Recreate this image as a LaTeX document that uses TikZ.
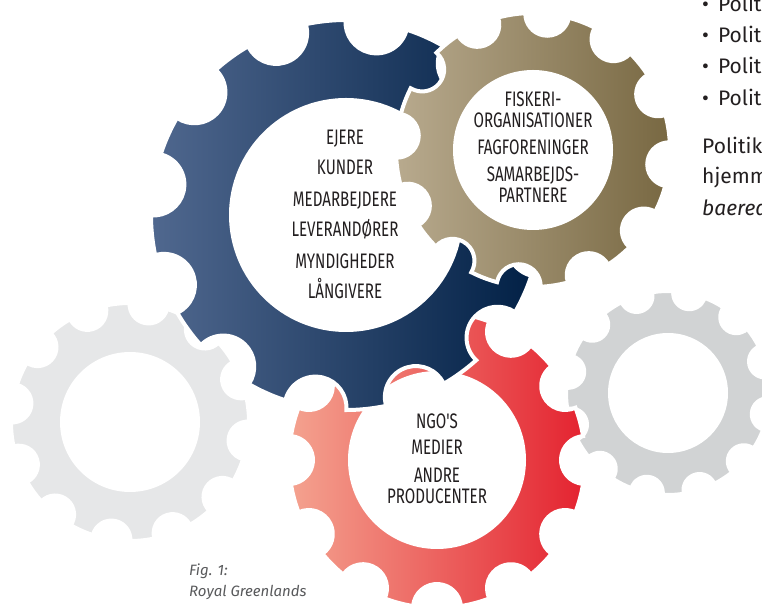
\documentclass[tikz,border=0pt]{standalone}
\usepackage{fontspec}
\setmainfont{Fira Sans}
\newfontfamily\gearfont[FakeStretch=0.72]{Fira Sans}
\usetikzlibrary{calc}

\definecolor{navyL}{RGB}{80,104,143}
\definecolor{navyR}{RGB}{0,31,68}
\definecolor{goldL}{RGB}{184,170,142}
\definecolor{goldR}{RGB}{120,104,66}
\definecolor{coralL}{RGB}{244,162,143}
\definecolor{coralR}{RGB}{228,35,48}
\definecolor{paleL}{RGB}{230,231,232}
\definecolor{paleR}{RGB}{209,211,212}
\definecolor{ink}{RGB}{35,31,32}
\definecolor{figgray}{RGB}{88,89,91}

% style, centre, tip radius, notch radius, first notch angle
\newcommand{\gearwheel}[5]{%
  \pgfmathsetmacro{\gb}{2*asin(#4/(2*#3))}
  \path[#1] ($(#2)+(#5+\gb:#3pt)$)
    \foreach \k in {0,...,11}{
      arc[start angle=#5+30*\k+\gb, end angle=#5+30*\k+30-\gb, radius=#3pt]
      arc[start angle=#5+30*\k+300-\gb/2, end angle=#5+30*\k+120+\gb/2, radius=#4pt]
    } -- cycle;
}

\begin{document}
\begin{tikzpicture}[
x=1pt, y=1pt,
gap/.style={draw=white, line width=4pt},
navygear/.style={gap, left color=navyL, right color=navyR},
goldgear/.style={gap, left color=goldL, right color=goldR},
coralgear/.style={gap, left color=coralL, right color=coralR},
palegear/.style={gap, fill=paleL},
greygear/.style={gap, fill=paleR},
hole/.style={
    circle,
    fill=white,
    inner sep=0pt, % no inner spacing
},
gearlabel/.style={
    font={\gearfont\fontsize{21}{24}\selectfont},
    text=ink,
    anchor=base,
    inner sep=0pt,
},
bodytext/.style={font={\fontsize{21}{25}\selectfont}, text=ink, anchor=base west, inner sep=0pt},
figlabel/.style={font={\itshape\fontsize{15}{18}\selectfont}, text=figgray, anchor=base west, inner sep=0pt},
]
\useasboundingbox (0,0) rectangle (762,607);

\coordinate (paleC) at (130,185);
\coordinate (greyC) at (668,214);
\coordinate (coralC) at (437,147);
\coordinate (navyC) at (346,392);
\coordinate (goldC) at (533,457);

% grey gears at the back
\gearwheel{palegear}{paleC}{119}{19}{21}
\node[hole, minimum size=140pt] (paleHole) at (paleC) {};
\gearwheel{greygear}{greyC}{102}{16}{18}
\node[hole, minimum size=120pt] (greyHole) at (greyC) {};

% coloured gears
\gearwheel{coralgear}{coralC}{148}{24}{0}
\node[hole, minimum size=178pt] (coralHole) at (coralC) {};
\gearwheel{navygear}{navyC}{195}{31}{21}
\node[hole, minimum size=234pt] (navyHole) at (navyC) {};
\gearwheel{goldgear}{goldC}{137}{22}{24}
\node[hole, minimum size=160pt] (goldHole) at (goldC) {};

% navy gear
\node[gearlabel] (ejere) at (345,462) {EJERE};
\node[gearlabel] (kunder) at (345,432) {KUNDER};
\node[gearlabel] (medarb) at (345,400) {MEDARBEJDERE};
\node[gearlabel] (lever) at (345,370) {LEVERANDØRER};
\node[gearlabel] (myndig) at (345,338) {MYNDIGHEDER};
\node[gearlabel] (laang) at (345,308) {LÅNGIVERE};

% gold gear
\node[gearlabel] (fisk) at (533,500) {FISKERI-};
\node[gearlabel] (organ) at (533,479) {ORGANISATIONER};
\node[gearlabel] (fagf) at (533,452) {FAGFORENINGER};
\node[gearlabel] (samarb) at (533,425) {SAMARBEJDS-};
\node[gearlabel] (partn) at (533,404) {PARTNERE};

% coral gear
\node[gearlabel] (ngo) at (437,178) {NGO'S};
\node[gearlabel] (medier) at (437,152) {MEDIER};
\node[gearlabel] (andre) at (437,124) {ANDRE};
\node[gearlabel] (produc) at (437,103) {PRODUCENTER};

% caption
\node[figlabel] (fig) at (189,31) {Fig. 1:};
\node[figlabel] (royal) at (189,11) {Royal Greenlands};

% text running off the right edge
\node[bodytext] (pol1) at (702,595) {•\hspace{9pt}Polit};
\node[bodytext] (pol2) at (702,564) {•\hspace{9pt}Polit};
\node[bodytext] (pol3) at (702,533) {•\hspace{9pt}Polit};
\node[bodytext] (pol4) at (702,501) {•\hspace{9pt}Polit};
\node[bodytext] (politikk) at (702,453) {Politikk};
\node[bodytext] (hjemm) at (702,423) {hjemm};
\node[bodytext, font={\itshape\fontsize{21}{25}\selectfont}] (baered) at (702,391) {baered};

\end{tikzpicture}
\end{document}
